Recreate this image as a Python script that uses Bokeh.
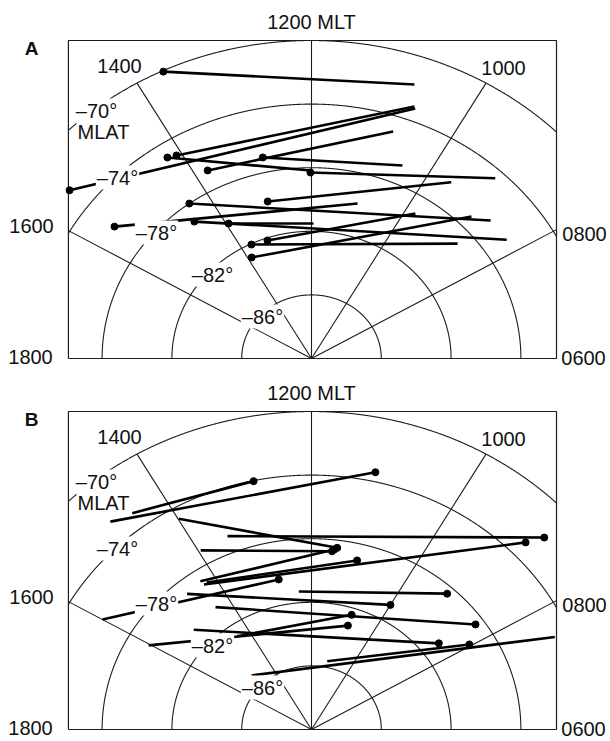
import numpy as np
from bokeh.plotting import figure
from bokeh.layouts import column
from bokeh.models import Range1d
from bokeh.core.properties import value
from bokeh.embed import file_html
from bokeh.resources import INLINE

# ---------------- data (MLT in hours, MLAT in degrees) ----------------
# Panel A: dot at the start point
A_start_mlt = [13.68, 15.51, 14.08, 13.78, 14.21, 12.83, 12.02, 14.38, 12.95, 15.58, 14.53, 13.95, 13.25, 13.71, 13.89]
A_start_mlat = [-70.06, -72.56, -75.07, -76.76, -74.90, -77.05, -78.30, -78.00, -79.81, -75.99, -79.08, -80.27, -82.16, -82.05, -82.78]
A_end_mlt = [10.74, 10.62, 10.64, 10.79, 12.02, 10.45, 9.14, 8.68, 9.61, 10.99, 8.25, 11.95, 9.79, 8.72, 8.95]
A_end_mlat = [-71.79, -73.19, -73.09, -74.97, -78.18, -76.79, -74.53, -76.56, -76.33, -79.90, -76.55, -81.51, -79.11, -78.94, -77.20]

# Panel B: dot at the end point (last track has none)
B_start_mlt = [14.76, 14.47, 13.99, 13.44, 13.96, 14.29, 14.27, 14.20, 16.00, 12.32, 14.66, 14.37, 16.03, 14.40, 15.14, 11.21, 15.02]
B_start_mlat = [-72.57, -72.95, -74.72, -76.92, -77.07, -78.71, -78.99, -78.97, -76.17, -81.29, -78.88, -80.54, -79.27, -82.75, -80.79, -85.61, -85.17]
B_end_mlt = [11.15, 12.80, 11.51, 8.81, 11.60, 11.56, 8.92, 11.08, 12.75, 9.18, 10.00, 8.34, 10.82, 10.82, 8.44, 8.04, 7.51]
B_end_mlat = [-73.41, -74.03, -78.48, -72.01, -78.73, -78.60, -73.00, -79.05, -80.38, -78.45, -80.95, -78.51, -83.14, -82.43, -80.91, -79.49, -74.89]
B_dot = [1, 1, 1, 1, 1, 1, 1, 1, 1, 1, 1, 1, 1, 1, 1, 1, 0]

# grid definition
LAT_CIRCLES = [-70, -74, -78, -82, -86]
LAT_LABELS = ["\u201370\u00b0", "\u201374\u00b0", "\u201378\u00b0", "\u201382\u00b0", "\u201386\u00b0"]
MLT_RADIALS = [8, 10, 12, 14, 16]
MLT_LABELS = ["0800", "1000", "1200 MLT", "1400", "1600", "1800", "0600"]

# ---------------- layout constants ----------------
SX, SY = 17.45, 15.9          # pixels per degree of colatitude
FIG_W = 610
POLE_X = 311                  # pole position inside the figure (px)
XL, XR, YT = -13.93, 14.04, 20.0   # box (degrees)
FONT = value("Liberation Sans")


def to_xy(mlt, mlat):
    mlt = np.asarray(mlt, float)
    mlat = np.asarray(mlat, float)
    r = 90.0 + mlat
    phi = np.radians((mlt - 12.0) * 15.0)
    return -r * np.sin(phi), r * np.cos(phi)


def ref(px, py):
    # label placement from reference-panel pixel position (pole at 311, 358)
    return (px - 311) / SX, (358 - py) / SY


LABEL_POS = [
    (MLT_LABELS[2], 311, 21),
    (MLT_LABELS[3], 119, 65),
    (MLT_LABELS[1], 503, 67),
    (LAT_LABELS[0], 96, 110),
    ("MLAT", 103, 131),
    (LAT_LABELS[1], 117, 177),
    (MLT_LABELS[4], 31, 225),
    (MLT_LABELS[0], 584, 233),
    (LAT_LABELS[2], 156, 232),
    (LAT_LABELS[3], 212, 274),
    (LAT_LABELS[4], 262, 316),
    (MLT_LABELS[5], 30, 356),
    (MLT_LABELS[6], 583, 357),
]


def panel(letter, s_mlt, s_mlat, e_mlt, e_mlat, dot_start, dot_flags, height, pole_y):
    p = figure(width=FIG_W, height=height, output_backend="svg", toolbar_location=None,
               x_axis_type=None, y_axis_type=None, min_border=0,
               x_range=Range1d(-POLE_X / SX, (FIG_W - POLE_X) / SX),
               y_range=Range1d(-(height - pole_y) / SY, pole_y / SY))
    p.outline_line_color = None
    p.background_fill_color = "white"
    p.border_fill_color = "white"

    gc = "#1c1c1c"
    # latitude circles clipped to the box
    phi = np.radians(np.linspace(-90, 90, 2001))
    for lat in LAT_CIRCLES:
        r = 90.0 + lat
        x = -r * np.sin(phi)
        y = r * np.cos(phi)
        m = (x >= XL) & (x <= XR) & (y <= YT)
        p.line(x[m], y[m], line_color=gc, line_width=1.1)

    # MLT radial lines
    for h in MLT_RADIALS:
        ph = np.radians((h - 12) * 15.0)
        dx, dy = -np.sin(ph), np.cos(ph)
        rmax = 20.0
        if dx < 0:
            rmax = min(rmax, XL / dx)
        elif dx > 0:
            rmax = min(rmax, XR / dx)
        p.line([0, rmax * dx], [0, rmax * dy], line_color=gc, line_width=1.1)

    # box
    p.line([XL, XR, XR, XL, XL], [0, 0, YT, YT, 0], line_color=gc, line_width=1.2)

    # tracks
    x0, y0 = to_xy(s_mlt, s_mlat)
    x1, y1 = to_xy(e_mlt, e_mlat)
    xs = [[a, b] for a, b in zip(x0, x1)]
    ys = [[a, b] for a, b in zip(y0, y1)]
    p.multi_line(xs, ys, line_color="black", line_width=2.6)
    dx_, dy_ = (x0, y0) if dot_start else (x1, y1)
    sel = [i for i, f in enumerate(dot_flags) if f]
    p.scatter([dx_[i] for i in sel], [dy_[i] for i in sel], size=7,
              marker="circle", color="black")

    # labels with white background (mask grid and tracks)
    tx, ty, tt = [], [], []
    for t, px, py in LABEL_POS:
        x, y = ref(px, py)
        tx.append(x); ty.append(y); tt.append(t)
    p.text(tx, ty, text=tt, text_font=FONT, text_font_size="20px", text_color="#111111",
           text_align="center", text_baseline="middle",
           background_fill_color="white", padding=1)
    lx, ly = ref(31, 48)
    p.text([lx], [ly], text=[letter], text_font=FONT, text_font_size="19px",
           text_font_style="bold", text_color="#111111",
           text_align="center", text_baseline="middle")
    return p


pA = panel("A", A_start_mlt, A_start_mlat, A_end_mlt, A_end_mlat, True,
           [1] * len(A_start_mlt), 371, 358)
pB = panel("B", B_start_mlt, B_start_mlat, B_end_mlt, B_end_mlat, False,
           B_dot, 369, 358)

layout = column(pA, pB, spacing=0)
open("out.html", "w").write(file_html(layout, INLINE))
